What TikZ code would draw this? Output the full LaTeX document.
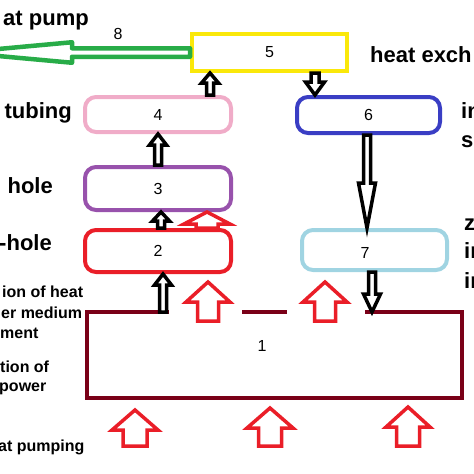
\documentclass[tikz,border=0pt]{standalone}
\usepackage{fontspec}
\setmainfont{Liberation Sans}
\usetikzlibrary{calc}
\definecolor{boxyellow}{RGB}{250,232,10}
\definecolor{tubepink}{RGB}{240,172,200}
\definecolor{sepblue}{RGB}{58,62,196}
\definecolor{holepurple}{RGB}{152,82,172}
\definecolor{heatred}{RGB}{234,30,40}
\definecolor{injblue}{RGB}{160,212,226}
\definecolor{rockred}{RGB}{122,0,24}
\definecolor{pipegreen}{RGB}{40,172,72}
\tikzset{
  box/.style={rectangle, line width=4pt, inner sep=0pt, minimum width=146pt, minimum height=36pt, font=\fontsize{16}{19}\selectfont},
  rbox/.style={box, rounded corners=11pt},
  num/.style={inner sep=0pt, font=\fontsize{16}{19}\selectfont},
  side/.style={inner sep=0pt, font=\bfseries\fontsize{22}{26}\selectfont},
  side-small/.style={inner sep=0pt, font=\bfseries\fontsize{16}{19}\selectfont},
  blk/.style={draw=black, fill=white, line width=3.5pt},
  hollow-red/.style={draw=heatred, fill=white, line width=3.5pt},
  hollow-green/.style={draw=pipegreen, fill=white, line width=4.5pt, line join=round}
}
% block arrow: [style]{from}{to}{shaft half}{head half}{head length}
\newcommand{\blockarrow}[6][]{%
  \coordinate (ba-from) at (#2);
  \coordinate (ba-to) at (#3);
  \coordinate (ba-base) at ($(ba-to)!#6!(ba-from)$);
  \draw[#1] ($(ba-from)!#4!90:(ba-to)$) -- ($(ba-base)!#4!90:(ba-to)$)
    -- ($(ba-base)!#5!90:(ba-to)$) -- (ba-to)
    -- ($(ba-base)!#5!-90:(ba-to)$) -- ($(ba-base)!#4!-90:(ba-to)$)
    -- ($(ba-from)!#4!-90:(ba-to)$) -- cycle;
}

\begin{document}
\begin{tikzpicture}[x=1pt, y=-1pt]
  \useasboundingbox (0,0) rectangle (474,474);

  % boxes
  \node[box, draw=boxyellow, minimum width=155pt, minimum height=37pt] (n5) at (269.5,52.5) {5};
  \node[rbox, draw=tubepink, minimum height=35pt] (n4) at (158,114.5) {4};
  \node[rbox, draw=sepblue, minimum width=143pt] (n6) at (368.5,115) {6};
  \node[rbox, draw=holepurple, minimum height=43pt] (n3) at (158,188.5) {3};
  \node[rbox, draw=heatred, minimum height=42pt] (n2) at (158,251) {2};
  \node[rbox, draw=injblue, minimum width=145pt, minimum height=40pt] (n7) at (374.5,250) {};
  \node[num] (lbl7) at (365,252.5) {7};
  \node[box, minimum width=371pt, minimum height=82pt] (n1) at (274.5,355) {};
  \node[num] (lbl1) at (262,346) {1};

  % rock block, open on top where heat passes
  \draw[line width=4pt, rockred] ([xshift=82pt]n1.north west) -- (n1.north west)
    -- (n1.south west) -- (n1.south east) -- (n1.north east) -- ([xshift=-97pt]n1.north east);
  \draw[line width=4pt, rockred] ([xshift=155pt]n1.north west) -- ([xshift=200pt]n1.north west);

  % medium flow
  \blockarrow[blk]{n1.north -| 163,0}{n2.south -| 163,0}{3.5pt}{8.5pt}{11pt}
  \blockarrow[blk]{n2.north -| 161,0}{n3.south -| 161,0}{3.5pt}{8.5pt}{9pt}
  \blockarrow[blk]{n3.north -| 158,0}{n4.south -| 158,0}{3.5pt}{8.5pt}{11pt}
  \blockarrow[blk]{n4.north -| 210,0}{n5.south -| 210,0}{3.5pt}{8.5pt}{10pt}
  \blockarrow[blk]{n5.south -| 315,0}{n6.north -| 315,0}{4pt}{9.5pt}{13pt}
  \blockarrow[blk]{n6.south -| 367,0}{n7.north -| 367,0}{3.5pt}{8.5pt}{45pt}
  \blockarrow[blk]{n7.south -| 372,0}{n1.north -| 372,0}{3.5pt}{8.5pt}{18pt}

  % heat flow
  \blockarrow[hollow-red]{n2.north -| 207,0}{n3.south -| 207,0}{11pt}{23pt}{12pt}
  \blockarrow[hollow-red]{$(n1.north -| 208,0)+(0,9)$}{$(n2.south -| 208,0)+(0,8)$}{10.5pt}{22pt}{20pt}
  \blockarrow[hollow-red]{$(n1.north -| 325,0)+(0,9)$}{$(n7.south -| 325,0)+(0,10)$}{10.5pt}{22pt}{20pt}
  \coordinate (src-a) at (135,446);
  \coordinate (src-b) at (270,446);
  \coordinate (src-c) at (408,446);
  \blockarrow[hollow-red]{src-a}{$(n1.south -| src-a)+(0,12)$}{12pt}{23pt}{20pt}
  \blockarrow[hollow-red]{src-b}{$(n1.south -| src-b)+(0,10)$}{11.5pt}{23pt}{20pt}
  \blockarrow[hollow-red]{src-c}{$(n1.south -| src-c)+(0,9)$}{11.5pt}{22pt}{20pt}

  % output to the heat pump
  \coordinate (out8) at (-40,52.5);
  \blockarrow[hollow-green]{n5.west}{out8}{4.25pt}{10.25pt}{112pt}
  \node[num] (lbl8) at (118,34) {8};

  % side texts
  \node[side, anchor=base east] (t-pump) at (89,25) {at pump};
  \node[side, anchor=base east] (t-tubing) at (72,118) {tubing};
  \node[side, anchor=base east] (t-hole) at (53,193) {hole};
  \node[side, anchor=base east] (t-dhole) at (52,250) {-hole};
  \node[side-small, anchor=base west] (t-heat1) at (2,297) {ion of heat};
  \node[side-small, anchor=base west] (t-heat2) at (1,318) {er medium};
  \node[side-small, anchor=base west] (t-heat3) at (0,338) {ment};
  \node[side-small, anchor=base west] (t-pow1) at (0,372) {tion of};
  \node[side-small, anchor=base west] (t-pow2) at (-1,391) {power};
  \node[side-small, anchor=base west] (t-pumping) at (-2,451) {at pumping};
  \node[side, anchor=base west] (t-exch) at (370,62) {heat exch};
  \node[side, anchor=base west] (t-sep1) at (461,118) {in};
  \node[side, anchor=base west] (t-sep2) at (461,147) {s};
  \node[side, anchor=base west] (t-inj1) at (464,230) {z};
  \node[side, anchor=base west] (t-inj2) at (464,258) {in};
  \node[side, anchor=base west] (t-inj3) at (464,288) {in};
\end{tikzpicture}
\end{document}
